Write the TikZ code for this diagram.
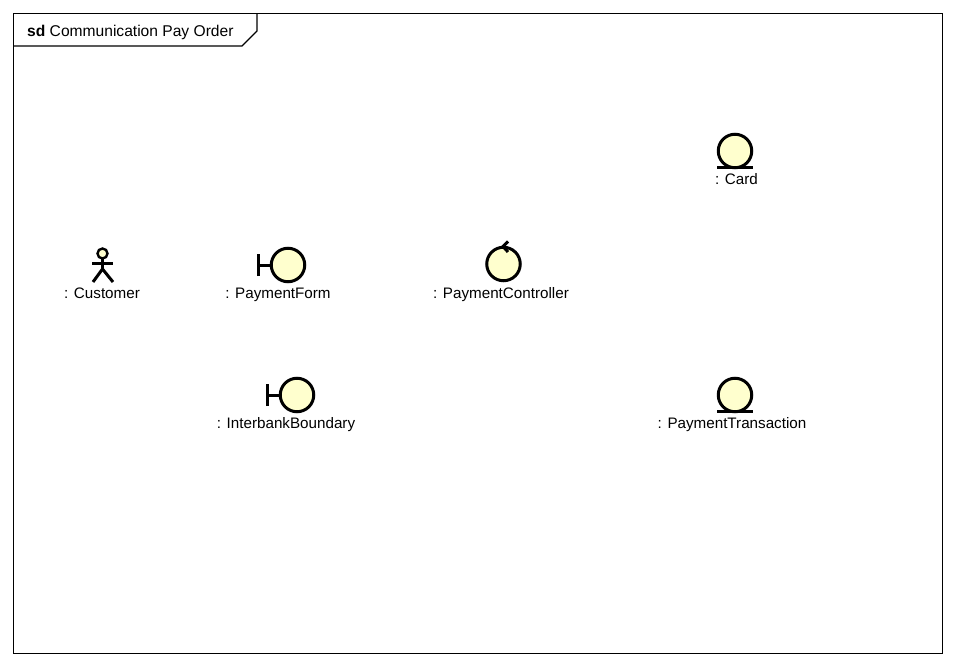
\documentclass[tikz,border=0pt]{standalone}
\usepackage{fontspec}
\setmainfont{Liberation Sans}
\usetikzlibrary{positioning}
\definecolor{objfill}{RGB}{255,255,206}

\begin{document}
\begin{tikzpicture}[x=1pt,y=-1pt,
      every node/.style={font=\fontsize{15.2}{18}\selectfont,inner sep=0pt},
      obj/.style={circle,draw,line width=3pt,fill=objfill,minimum size=33.5pt,outer sep=0pt},
      lbl/.style={anchor=base},
      glyph/.style={line width=3pt}]
      \useasboundingbox (0,0) rectangle (956,666);
      % frame and tab
      \coordinate (nw) at (13.5,13.5);
      \coordinate (se) at (942.5,653.5);
      \draw[line width=1.1pt] (nw) rectangle (se);
      \draw[line width=1.1pt] (257,13.5) -- (257,31) -- (242,46) -- (13.5,46);
      \node (title) [anchor=base west,font=\fontsize{15.6}{18}\selectfont] at (27,36.5) {\textbf{sd} Communication Pay Order};
      % customer
      \node (head) [circle,draw,line width=2.4pt,fill=objfill,minimum size=10pt,outer sep=0pt] at (102.5,253.5) {};
      \coordinate (neck) at (102.5,269);
      \coordinate (armL) at (92,263);
      \coordinate (armR) at (113,263);
      \coordinate (footL) at (93,282);
      \coordinate (footR) at (113,282);
      \draw[glyph] (head) -- (neck);
      \draw[glyph] (armL) -- (armR);
      \draw[glyph] (footL) -- (neck) -- (footR);
      \node (customer) [lbl] at (102,298.5) {: Customer};
      % boundaries
      \node (form) [obj] at (288,265) {};
      \coordinate (formBar) at (258.5,265);
      \draw[glyph] (formBar) -- (form);
      \draw[glyph] ([yshift=-11pt]formBar) -- ([yshift=11pt]formBar);
      \node (formLabel) [lbl] at (278,298.5) {: PaymentForm};
      \node (bank) [obj] at (297,395) {};
      \coordinate (bankBar) at (267.5,395);
      \draw[glyph] (bankBar) -- (bank);
      \draw[glyph] ([yshift=-11pt]bankBar) -- ([yshift=11pt]bankBar);
      \node (bankLabel) [lbl] at (286,428.5) {: InterbankBoundary};
      % controller
      \node (control) [obj] at (503.5,264) {};
      \draw[glyph] (508,241.5) -- (503,246.5) -- (508,252);
      \node (controlLabel) [lbl] at (501,298.5) {: PaymentController};
      % entities
      \node (card) [obj] at (735,151) {};
      \draw[glyph] ([xshift=-18pt]card.south) -- ([xshift=18pt]card.south);
      \node (cardLabel) [lbl] at (736.5,184.5) {: Card};
      \node (trans) [obj] at (735,395) {};
      \draw[glyph] ([xshift=-18pt]trans.south) -- ([xshift=18pt]trans.south);
      \node (transLabel) [lbl] at (732,428.5) {: PaymentTransaction};
    \end{tikzpicture}
\end{document}
